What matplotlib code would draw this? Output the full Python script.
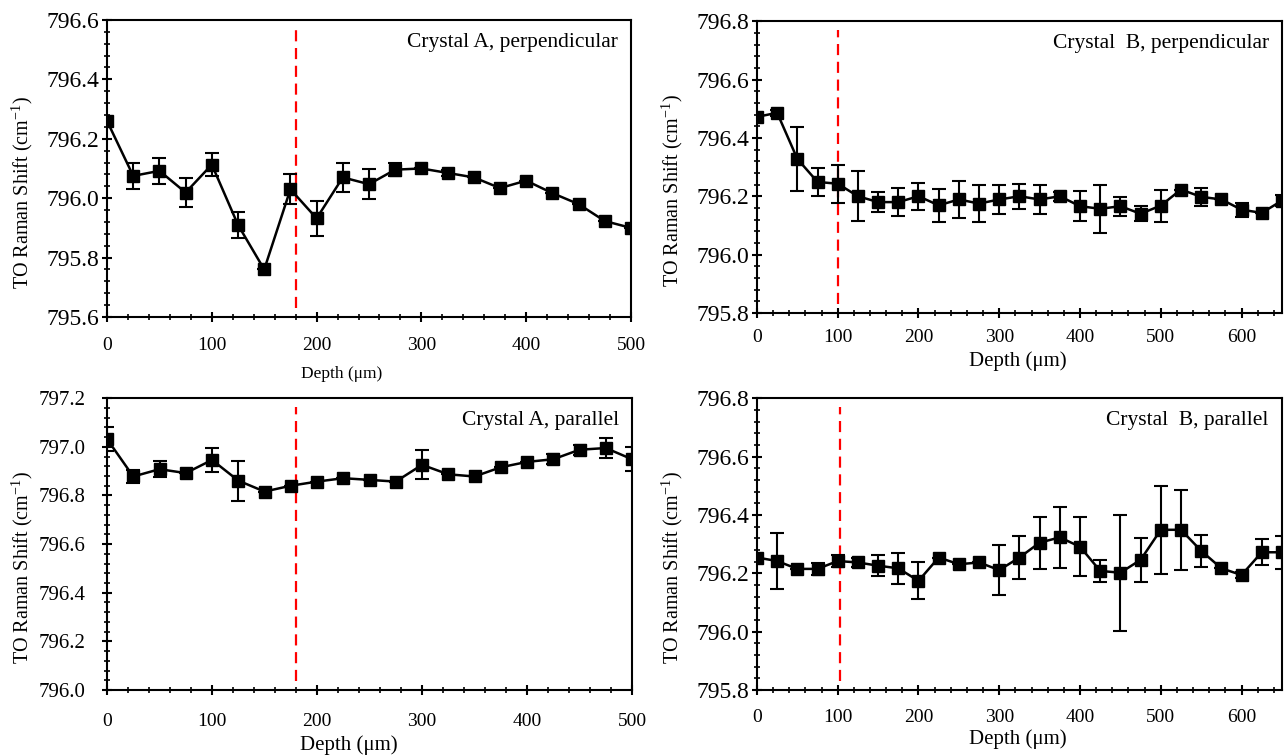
import numpy as np
import matplotlib
matplotlib.use("Agg")
import matplotlib.pyplot as plt
from matplotlib.ticker import MultipleLocator, FormatStrFormatter

plt.rcParams["font.family"] = ["Liberation Serif", "DejaVu Serif"]
plt.rcParams["mathtext.default"] = "regular"

# Crystal A, perpendicular
depth_a = [0, 25, 50, 75, 100, 125, 150, 175, 200, 225, 250, 275, 300, 325, 350,
           375, 400, 425, 450, 475, 500]
shift_a_perp = [796.26, 796.075, 796.092, 796.019, 796.113, 795.91, 795.76, 796.03,
                795.932, 796.07, 796.047, 796.096, 796.10, 796.085, 796.07, 796.034,
                796.059, 796.017, 795.98, 795.923, 795.90]
err_a_perp = [0.01, 0.044, 0.044, 0.05, 0.038, 0.044, 0.0, 0.05, 0.06, 0.05, 0.05,
              0.022, 0.0, 0.01, 0.0, 0.0, 0.0, 0.0, 0.0, 0.0, 0.0]

# Crystal A, parallel
shift_a_par = [797.032, 796.878, 796.908, 796.892, 796.946, 796.861, 796.816, 796.84,
               796.857, 796.871, 796.864, 796.857, 796.926, 796.887, 796.878, 796.916,
               796.938, 796.949, 796.988, 796.995, 796.949]
err_a_par = [0.05, 0.026, 0.033, 0.0, 0.051, 0.082, 0.0, 0.0, 0.0, 0.0, 0.0, 0.0,
             0.06, 0.0, 0.0, 0.0, 0.0, 0.02, 0.02, 0.04, 0.05]

# Crystal B, perpendicular
depth_b = [0, 25, 50, 75, 100, 125, 150, 175, 200, 225, 250, 275, 300, 325, 350,
           375, 400, 425, 450, 475, 500, 525, 550, 575, 600, 625, 650]
shift_b_perp = [796.472, 796.486, 796.328, 796.249, 796.243, 796.20, 796.18, 796.18,
                796.20, 796.169, 796.189, 796.175, 796.189, 796.20, 796.189, 796.20,
                796.166, 796.157, 796.166, 796.14, 796.168, 796.223, 796.198, 796.189,
                796.154, 796.143, 796.185]
err_b_perp = [0.0, 0.01, 0.11, 0.049, 0.065, 0.085, 0.033, 0.049, 0.046, 0.057,
              0.064, 0.062, 0.051, 0.043, 0.05, 0.015, 0.051, 0.083, 0.033, 0.025,
              0.055, 0.0, 0.03, 0.0, 0.024, 0.0, 0.02]

# Crystal B, parallel
shift_b_par = [796.254, 796.242, 796.215, 796.215, 796.242, 796.237, 796.226, 796.217,
               796.174, 796.254, 796.231, 796.237, 796.211, 796.254, 796.305, 796.323,
               796.291, 796.208, 796.202, 796.246, 796.349, 796.349, 796.277, 796.217,
               796.194, 796.272, 796.272]
err_b_par = [0.0, 0.096, 0.0, 0.02, 0.02, 0.015, 0.036, 0.053, 0.063, 0.0, 0.0, 0.0,
             0.087, 0.073, 0.089, 0.104, 0.102, 0.039, 0.199, 0.076, 0.15, 0.138,
             0.054, 0.0, 0.01, 0.044, 0.057]

panels = [
    dict(rect=[0.0831, 0.5807, 0.4068, 0.3929], x=depth_a, y=shift_a_perp,
         err=err_a_perp, xmax=500, ylim=(795.6, 796.6),
         label="Crystal A, perpendicular", boundary=180,
         ysize=17, ypad=2, xpad=11, xlab=(0.448, -0.165, 12.5)),
    dict(rect=[0.5877, 0.586, 0.4076, 0.386], x=depth_b, y=shift_b_perp,
         err=err_b_perp, xmax=650, ylim=(795.8, 796.8),
         label="Crystal  B, perpendicular", boundary=100,
         ysize=17, ypad=2, xpad=8, xlab=(0.497, -0.13, 15)),
    dict(rect=[0.0831, 0.0873, 0.4076, 0.386], x=depth_a, y=shift_a_par,
         err=err_a_par, xmax=500, ylim=(796.0, 797.2),
         label="Crystal A, parallel", boundary=180,
         ysize=15, ypad=12, xpad=13, xlab=(0.46, -0.156, 15)),
    dict(rect=[0.5877, 0.0873, 0.4076, 0.386], x=depth_b, y=shift_b_par,
         err=err_b_par, xmax=650, ylim=(795.8, 796.8),
         label="Crystal  B, parallel", boundary=103,
         ysize=17, ypad=2, xpad=10, xlab=(0.497, -0.135, 15)),
]

fig = plt.figure(figsize=(12.88, 7.56), dpi=100)
for p in panels:
    ax = fig.add_axes(p["rect"])
    ax.errorbar(p["x"], p["y"], yerr=p["err"], color="black", marker="s",
                markersize=8.5, linewidth=1.8, elinewidth=1.5, capsize=5,
                capthick=1.5, zorder=3)
    ax.axvline(p["boundary"], ymin=0.03, ymax=0.97, color="red",
               linestyle=(0, (5, 3)), linewidth=1.6, zorder=2)
    ax.set_xlim(0, p["xmax"])
    ax.set_ylim(*p["ylim"])
    ax.xaxis.set_major_locator(MultipleLocator(100))
    ax.xaxis.set_minor_locator(MultipleLocator(20))
    ax.yaxis.set_major_locator(MultipleLocator(0.2))
    ax.yaxis.set_minor_locator(MultipleLocator(0.04))
    ax.yaxis.set_major_formatter(FormatStrFormatter("%.1f"))
    for side in ax.spines.values():
        side.set_linewidth(1.5)
    ax.tick_params(which="major", direction="inout", length=7, width=1.5,
                   top=False, right=False)
    ax.tick_params(which="minor", direction="inout", length=4, width=1.2,
                   top=False, right=False)
    ax.tick_params(axis="x", labelsize=14, pad=p["xpad"])
    ax.tick_params(axis="y", labelsize=p["ysize"], pad=p["ypad"])
    xl_x, xl_y, xl_size = p["xlab"]
    ax.set_xlabel("Depth (μm)", fontsize=xl_size, va="top")
    ax.xaxis.set_label_coords(xl_x, xl_y)
    ax.set_ylabel("TO Raman Shift (cm$^{-1}$)", fontsize=14.5)
    ax.yaxis.set_label_coords(-0.137, 0.42)
    ax.text(0.975, 0.925, p["label"], transform=ax.transAxes, ha="right",
            va="center", fontsize=15.5)

fig.savefig("out.png", dpi=100)
